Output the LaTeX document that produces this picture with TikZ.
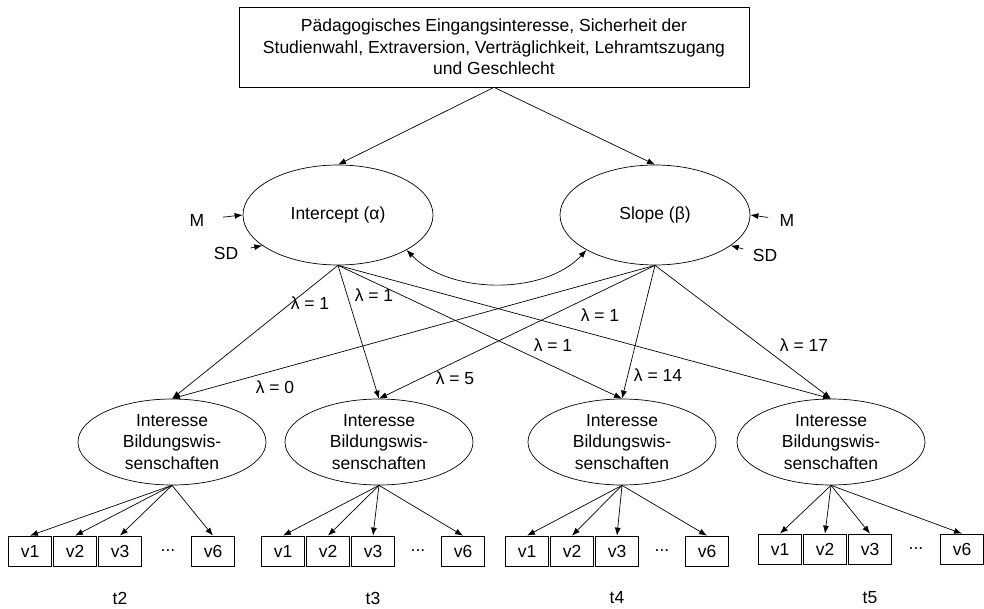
\documentclass[tikz,border=0pt]{standalone}
\usepackage{fontspec}
\setmainfont{Liberation Sans}
\usetikzlibrary{shapes.geometric,arrows.meta}

\begin{document}
\begin{tikzpicture}[x=1pt,y=-1pt,line width=0.7pt,font=\fontsize{17.5}{21.5}\selectfont,
  lat/.style={ellipse,draw,inner sep=0pt,align=center},
  ind/.style={rectangle,draw,minimum width=43,minimum height=30,inner sep=0pt},
  arr/.style={-{Latex[length=8pt,width=6pt]}}]
\useasboundingbox (0,0) rectangle (984,609);

\node[draw,minimum width=510,minimum height=80,align=center] (pred) at (494,47) {Pädagogisches Eingangsinteresse, Sicherheit der\\Studienwahl, Extraversion, Verträglichkeit, Lehramtszugang\\und Geschlecht};

\node[lat,minimum width=190,minimum height=100] (ic) at (338,215) {Intercept (α)};
\node[lat,minimum width=190,minimum height=100] (sl) at (655,215) {Slope (β)};
\draw[arr] (pred.south) -- (ic.north);
\draw[arr] (pred.south) -- (sl.north);

\node (m1) at (197,220) {M};
\node (sd1) at (226,253) {SD};
\node (m2) at (787,220) {M};
\node (sd2) at (765,255) {SD};
\draw[arr,shorten <=15pt] (m1) -- (ic.west);
\draw[arr,shorten <=9pt] (sd1) -- (ic.202);
\draw[arr,shorten <=8pt] (m2) -- (sl.east);
\draw[arr,shorten <=6pt] (sd2) -- (sl.-22);
\draw[{Latex[length=8pt,width=6pt]}-{Latex[length=8pt,width=6pt]}] (ic.-27) .. controls (450,295) and (545,295) .. (sl.207);

\foreach \n/\cx/\vx/\dx/\sx/\tl/\vy in {1/172/30/168/213/t2/551,2/379/283/418/463/t3/551,3/622/527/662/707/t4/551,4/831/780/916/962/t5/549}{
  \node[lat,minimum width=188,minimum height=86] (e\n) at (\cx,442) {Interesse\\Bildungswis-\\senschaften};
  \node[ind] (v\n1) at (\vx,\vy) {v1};
  \node[ind] (v\n2) at (\vx+45,\vy) {v2};
  \node[ind] (v\n3) at (\vx+90,\vy) {v3};
  \node (dots\n) at (\dx,\vy) {...};
  \node[ind] (v\n6) at (\sx,\vy) {v6};
  \node (time\n) at (\vx+90,598) {\tl};
  \foreach \k in {1,2,3,6}
    \draw[arr] (e\n.south) -- (v\n\k.north);
  \draw[arr] (ic.south) -- (e\n.north);
  \draw[arr] (sl.south) -- (e\n.north);
}

\node (l1) at (310,303) {λ = 1};
\node (l2) at (374,295) {λ = 1};
\node (l3) at (553,345) {λ = 1};
\node (l4) at (600,315) {λ = 1};
\node (l5) at (275,387) {λ = 0};
\node (l6) at (455,378) {λ = 5};
\node (l7) at (658,375) {λ = 14};
\node (l8) at (804,345) {λ = 17};

\end{tikzpicture}
\end{document}
